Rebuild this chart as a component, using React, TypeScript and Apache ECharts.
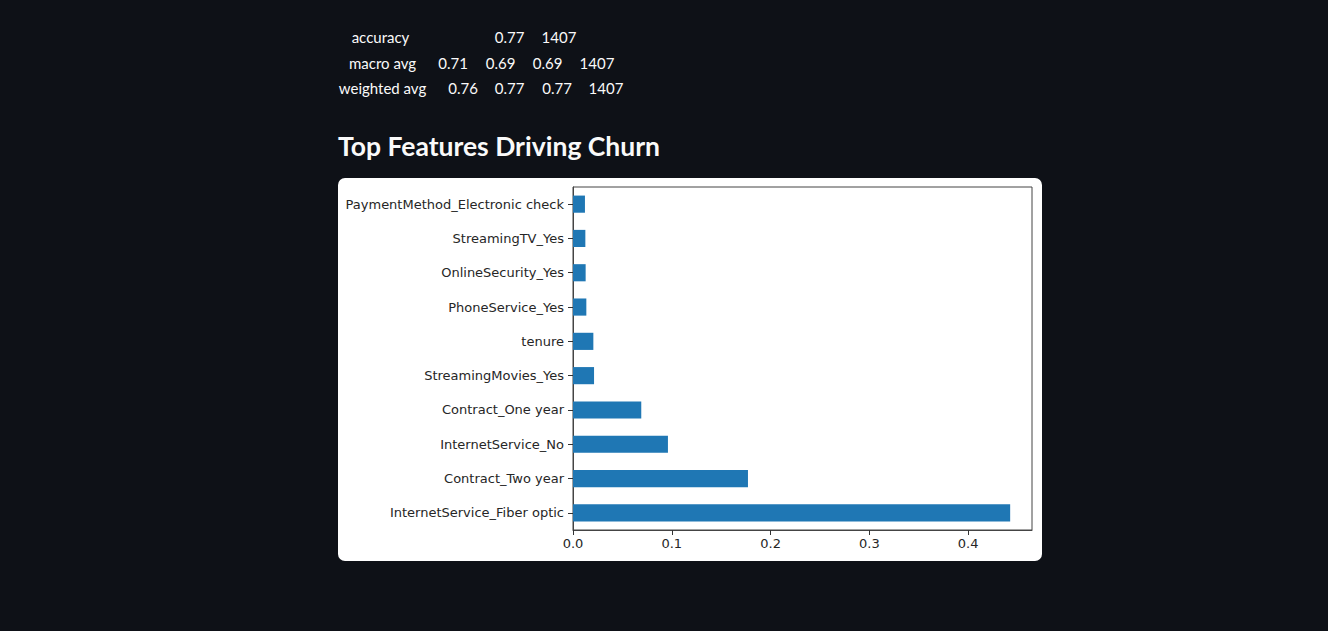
import React, { useEffect, useRef } from "react";
import * as echarts from "echarts";

// Feature importances (bottom to top, as drawn)
const features = [
  "InternetService_Fiber optic",
  "Contract_Two year",
  "InternetService_No",
  "Contract_One year",
  "StreamingMovies_Yes",
  "tenure",
  "PhoneService_Yes",
  "OnlineSecurity_Yes",
  "StreamingTV_Yes",
  "PaymentMethod_Electronic check",
];
const importances = [0.4425, 0.1771, 0.0961, 0.0691, 0.0213, 0.0206, 0.0135, 0.0128, 0.0125, 0.0121];
const xTicks = [0, 0.1, 0.2, 0.3, 0.4];
const xMax = 0.4646;

// Classification report summary rows
const reportLabels = ["accuracy", "macro avg", "weighted avg"];
const reportValues = [
  ["0.77", "1407"],
  ["0.71", "0.69", "0.69", "1407"],
  ["0.76", "0.77", "0.77", "1407"],
];
const heading = "Top Features Driving Churn";

// layout only (token centres)
const rowY = [37, 63, 88];
const labelX = [380.5, 382.5, 382.5];
const valueX = [
  [509.5, 559],
  [453, 500.5, 547.5, 597],
  [463, 509.5, 557, 606],
];

export default function App() {
  const ref = useRef<HTMLDivElement>(null);
  useEffect(() => {
    if (!ref.current) return;
    const chart = echarts.init(ref.current, undefined, { renderer: "svg" });
    const textColor = "rgb(250,250,250)";
    const graphics: any[] = [
      {
        type: "rect",
        shape: { x: 338, y: 178, width: 704, height: 383, r: 7 },
        style: { fill: "#ffffff" },
        z: -10,
      },
      {
        type: "text",
        x: 338,
        y: 146,
        style: {
          text: heading,
          fill: textColor,
          font: "bold 26.5px Lato",
          textAlign: "left",
          textVerticalAlign: "middle",
        },
      },
    ];
    reportLabels.forEach((lab, i) => {
      graphics.push({
        type: "text",
        x: labelX[i],
        y: rowY[i],
        style: { text: lab, fill: textColor, font: "15px Lato", textAlign: "center", textVerticalAlign: "middle" },
      });
      reportValues[i].forEach((v, j) => {
        graphics.push({
          type: "text",
          x: valueX[i][j],
          y: rowY[i],
          style: { text: v, fill: textColor, font: "15px Lato", textAlign: "center", textVerticalAlign: "middle" },
        });
      });
    });

    chart.setOption({
      animation: false,
      backgroundColor: "#0e1117",
      textStyle: { fontFamily: "DejaVu Sans" },
      grid: {
        left: 573,
        top: 187,
        width: 459,
        height: 343,
        show: true,
        borderColor: "#444",
        borderWidth: 1,
        backgroundColor: "#ffffff",
        containLabel: false,
      },
      xAxis: {
        type: "value",
        min: 0,
        max: xMax,
        splitLine: { show: false },
        axisLine: { show: true, lineStyle: { color: "#444", width: 1 } },
        axisTick: { show: true, length: 5, lineStyle: { color: "#333" }, customValues: xTicks },
        axisLabel: {
          customValues: xTicks,
          formatter: (v: number) => v.toFixed(1),
          fontSize: 13,
          color: "#262626",
          fontFamily: "DejaVu Sans",
          margin: 7,
        },
      },
      yAxis: {
        type: "category",
        data: features,
        boundaryGap: true,
        axisLine: { show: true, lineStyle: { color: "#444", width: 1 } },
        axisTick: { show: true, alignWithLabel: true, length: 5, lineStyle: { color: "#333" } },
        axisLabel: { fontSize: 13, color: "#262626", fontFamily: "DejaVu Sans", margin: 9 },
        splitLine: { show: false },
      },
      series: [
        {
          type: "bar",
          data: importances,
          barWidth: "50%",
          itemStyle: { color: "#1f77b4" },
        },
      ],
      graphic: graphics,
    });
    return () => chart.dispose();
  }, []);
  return (
    <div
      ref={ref}
      style={{ position: "absolute", left: 0, top: 0, width: 1328, height: 631 }}
    />
  );
}
